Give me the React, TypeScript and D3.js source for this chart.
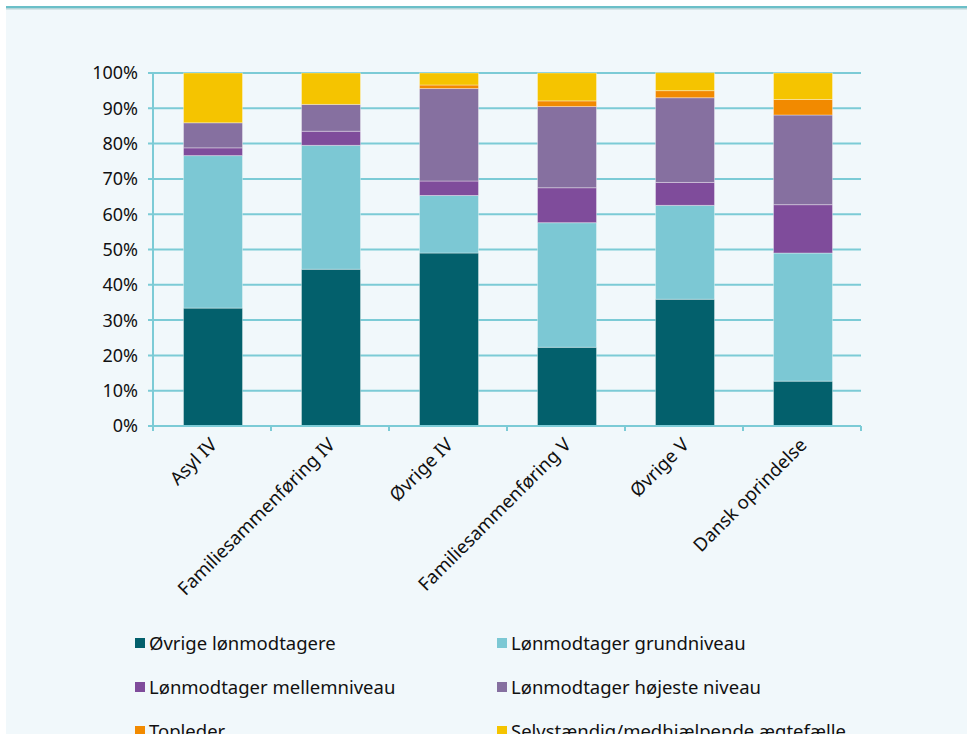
import React from "react";
import * as d3 from "d3";

const categories = ["Asyl IV", "Familiesammenføring IV", "Øvrige IV", "Familiesammenføring V", "Øvrige V", "Dansk oprindelse"];
const seriesNames = ["Øvrige lønmodtagere", "Lønmodtager grundniveau", "Lønmodtager mellemniveau", "Lønmodtager højeste niveau", "Topleder", "Selvstændig/medhjælpende ægtefælle"];
const ovrige = [33.4, 44.4, 49.0, 22.3, 35.9, 12.7];
const grund = [43.2, 35.1, 16.3, 35.3, 26.6, 36.3];
const mellem = [2.2, 4.0, 4.1, 9.9, 6.5, 13.7];
const hojeste = [7.1, 7.6, 26.2, 23.0, 24.0, 25.4];
const topleder = [0, 0, 1.0, 1.6, 2.0, 4.4];
const selv = [14.1, 8.9, 3.4, 7.9, 5.1, 7.5];
const yTicks = [0, 10, 20, 30, 40, 50, 60, 70, 80, 90, 100];

const colors = ["#03606c", "#7cc8d4", "#7f4c9b", "#8670a0", "#f28a00", "#f5c400"];

export default function App() {
  const W = 967, H = 734;
  const left = 153, right = 861, top = 73, bottom = 426;
  const font = "'Noto Sans', 'Open Sans', sans-serif";
  const seriesVals = [ovrige, grund, mellem, hojeste, topleder, selv];
  const rows = categories.map((c, i) => {
    const o: any = { cat: c };
    seriesNames.forEach((s, j) => (o[s] = seriesVals[j][i]));
    return o;
  });
  const stack = d3.stack<any>().keys(seriesNames)(rows);
  const x = d3.scaleBand().domain(categories).range([left + 1, right + 1]).paddingInner(0.5).paddingOuter(0.25);
  const xb = d3.scaleBand().domain(categories).range([left, right]);
  const y = d3.scaleLinear().domain([0, 100]).range([bottom, top]);
  const grid = "#7ccbd6";

  const legendPos = seriesNames.map((_, i) => ({ x: i % 2 === 0 ? 135 : 497, y: 643 + Math.floor(i / 2) * 44 }));

  return (
    <svg width={W} height={H} style={{ position: "absolute", left: 0, top: 0 }} fontFamily={font}>
      <rect x={0} y={0} width={W} height={H} fill="#ffffff" />
      <rect x={6} y={6} width={W - 6} height={H - 6} fill="#f1f8fb" />
      <rect x={6} y={6} width={W - 6} height={2.5} fill="#6bbfc8" />
      <rect x={6} y={8.5} width={W - 6} height={1} fill="#b9cfd3" />
      {yTicks.map((t) => (
        <g key={t}>
          <line x1={148} x2={right} y1={y(t)} y2={y(t)} stroke={grid} strokeWidth={2} />
          <text x={138} y={y(t)} dy="0.36em" textAnchor="end" fontSize={18} fill="#111">{t}%</text>
        </g>
      ))}
      <line x1={left} x2={left} y1={top - 1} y2={bottom + 5} stroke={grid} strokeWidth={2} />
      {categories.map((c) => (
        <line key={c} x1={xb(c)! + xb.bandwidth()} x2={xb(c)! + xb.bandwidth()} y1={bottom} y2={bottom + 5} stroke={grid} strokeWidth={2} />
      ))}
      {stack.map((s, j) => (
        <g key={s.key} fill={colors[j]}>
          {s.map((d, i) => (
            d[1] - d[0] > 0 ? (
              <rect key={i} x={x(categories[i])} width={x.bandwidth()} y={y(d[1])} height={y(d[0]) - y(d[1])}
                stroke="rgba(255,255,255,0.35)" strokeWidth={1} />
            ) : null
          ))}
        </g>
      ))}
      <line x1={left} x2={right} y1={bottom} y2={bottom} stroke={grid} strokeWidth={2} />
      {categories.map((c) => {
        const cx = xb(c)! + xb.bandwidth() / 2 + 6;
        const cy = bottom + 20;
        return (
          <text key={c} x={cx} y={cy} textAnchor="end" fontSize={18.5} fill="#111" transform={`rotate(-45 ${cx} ${cy})`}>{c}</text>
        );
      })}
      {seriesNames.map((s, i) => (
        <g key={s}>
          <rect x={legendPos[i].x} y={legendPos[i].y - 5} width={10} height={10} fill={colors[i]} />
          <text x={legendPos[i].x + 14} y={legendPos[i].y} dy="0.36em" fontSize={18.5} fill="#111">{s}</text>
        </g>
      ))}
    </svg>
  );
}
